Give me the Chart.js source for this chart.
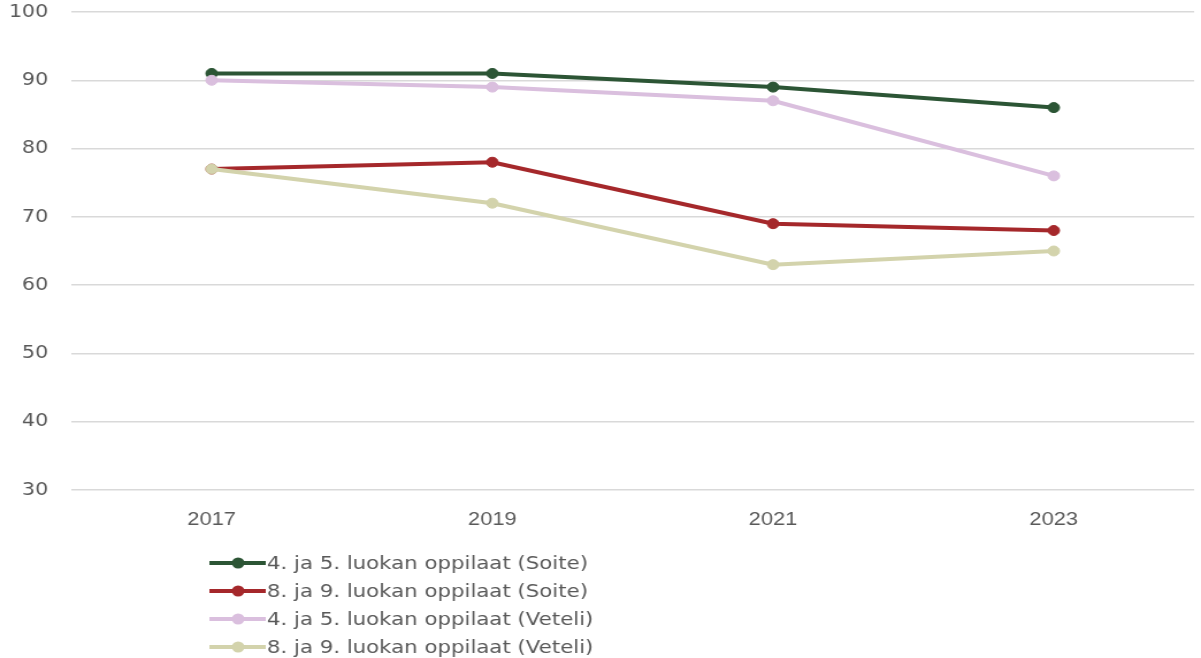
<!DOCTYPE html>
<html>
<head>
<meta charset="utf-8">
<script src="https://cdn.jsdelivr.net/npm/chart.js@4/dist/chart.umd.min.js"></script>
<style>
  html, body { margin: 0; padding: 0; background: #fff; }
</style>
</head>
<body>
<!-- alkuperäinen kuva on hieman venytetty vaakasuunnassa -->
<canvas id="chart" width="1044" height="658" style="display:block;width:1201px;height:658px"></canvas>
<script>
// Vuodet ja sarjat
const years = ['2017', '2019', '2021', '2023'];
const soite45 = [91, 91, 89, 86];
const soite89 = [77, 78, 69, 68];
const veteli45 = [90, 89, 87, 76];
const veteli89 = [77, 72, 63, 65];
const seriesNames = [
    '4. ja 5. luokan oppilaat (Soite)',
    '8. ja 9. luokan oppilaat (Soite)',
    '4. ja 5. luokan oppilaat (Veteli)',
    '8. ja 9. luokan oppilaat (Veteli)',
];
const seriesColors = ['#2c5535', '#a5282b', '#dabfde', '#d3d3ac'];
const yTicks = [30, 40, 50, 60, 70, 80, 90, 100];

function makeDataset(i, values) {
    return {
        label: seriesNames[i],
        data: values,
        borderColor: seriesColors[i],
        backgroundColor: seriesColors[i],
        borderWidth: 4,
        pointRadius: 5,
        pointBorderWidth: 1,
        pointHoverRadius: 5,
        tension: 0,
        fill: false,
        order: 4 - i,
    };
}

// Selite piirretään itse kaavion alle, yksi sarja per rivi
const legendPlugin = {
    id: 'bottomLegend',
    afterDraw(chart) {
        const ctx = chart.ctx;
        ctx.save();
        ctx.font = '18.5px "DejaVu Sans"';
        ctx.textBaseline = 'middle';
        ctx.textAlign = 'left';
        chart.data.datasets.forEach((ds, i) => {
            const y = 563 + i * 28;
            ctx.strokeStyle = ds.borderColor;
            ctx.lineWidth = 4;
            ctx.beginPath();
            ctx.moveTo(182, y);
            ctx.lineTo(231, y);
            ctx.stroke();
            ctx.fillStyle = ds.borderColor;
            ctx.beginPath();
            ctx.arc(207, y, 5.5, 0, Math.PI * 2);
            ctx.fill();
            ctx.fillStyle = '#595959';
            ctx.fillText(ds.label, 232, y + 1);
        });
        ctx.restore();
    }
};

const ctx = document.getElementById('chart').getContext('2d');
window.chart = new Chart(ctx, {
    type: 'line',
    data: {
        labels: years,
        datasets: [
            makeDataset(0, soite45),
            makeDataset(1, soite89),
            makeDataset(2, veteli45),
            makeDataset(3, veteli89),
        ],
    },
    options: {
        responsive: false,
        animation: false,
        layout: { padding: { top: 12, right: 0, bottom: 0, left: 0 } },
        plugins: {
            legend: { display: false },
            tooltip: { enabled: false },
        },
        scales: {
            x: {
                offset: true,
                grid: { display: false },
                border: { display: false },
                ticks: {
                    color: '#595959',
                    font: { family: '"Liberation Sans Narrow", "Liberation Sans"', size: 19 },
                    padding: 10,
                    maxRotation: 0,
                },
                afterFit(scale) { scale.height = 168; },
            },
            y: {
                min: 30,
                max: 100,
                grid: { color: '#d9d9d9', lineWidth: 1.5, drawTicks: false },
                border: { display: false },
                afterBuildTicks(scale) { scale.ticks = yTicks.map(v => ({ value: v })); },
                ticks: {
                    color: '#595959',
                    font: { family: '"DejaVu Sans"', size: 18 },
                    padding: 20,
                },
                afterFit(scale) {
                    scale.width = 62;
                    scale.paddingTop = 0;
                    scale.paddingBottom = 0;
                },
            },
        },
    },
    plugins: [legendPlugin],
});
</script>
</body>
</html>
